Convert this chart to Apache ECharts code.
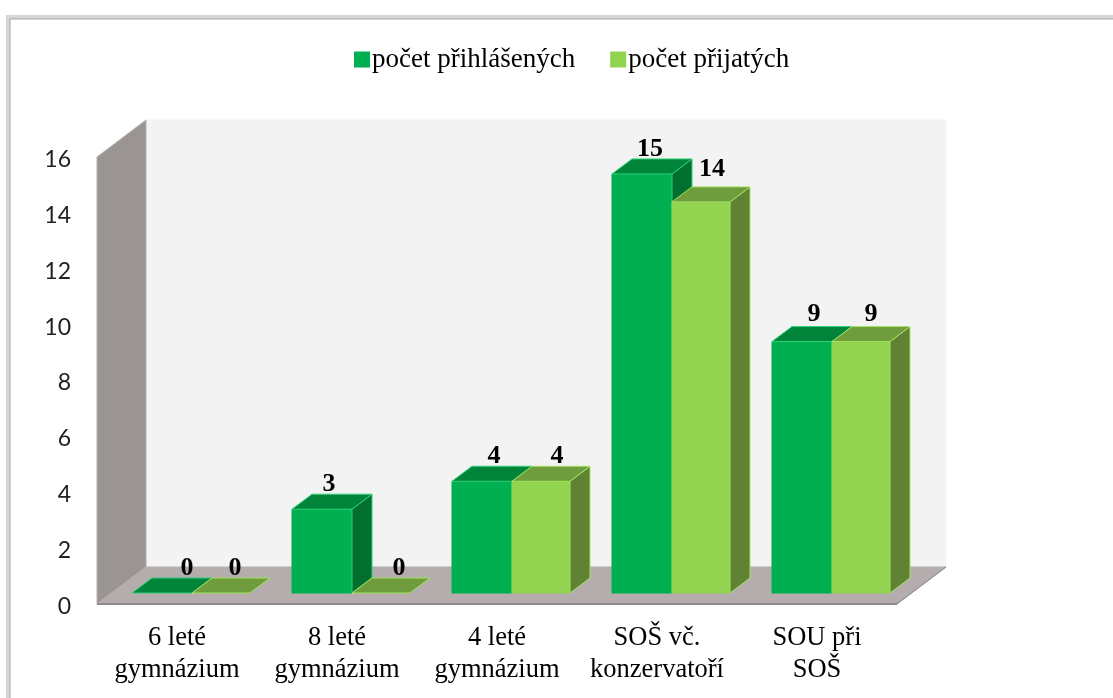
<!DOCTYPE html>
<html>
<head>
<meta charset="utf-8">
<title>počet přihlášených a přijatých</title>
<style>
  html, body { margin: 0; padding: 0; background: #fff; overflow: hidden; }
  #chart { width: 1113px; height: 698px; }
</style>
<script src="https://cdn.jsdelivr.net/npm/echarts@6/dist/echarts.min.js"></script>
</head>
<body>
<div id="chart"></div>
<script>
const categories = ['6 leté\ngymnázium', '8 leté\ngymnázium', '4 leté\ngymnázium', 'SOŠ vč.\nkonzervatoří', 'SOU při\nSOŠ'];
const prihlaseni = [0, 3, 4, 15, 9];
const prijati = [0, 0, 4, 14, 9];

const SERIF = '"Liberation Serif", serif';

// fake 3d: how far the wall sits behind the front plane, and where the bars sit in that depth
const wall = { dx: 49, dy: 37 };
const barStart = { dx: 15, dy: 11 };
const barDepth = { dx: 20, dy: 15 };
const barShare = 0.375;

const paletteA = { front: '#00b050', side: '#006f2f', top: '#00843a', edge: '#2fd07a' };
const paletteB = { front: '#92d350', side: '#5f8233', top: '#6f9c3d', edge: '#a5e25f' };

function poly(points, fill, stroke) {
  return {
    type: 'polygon',
    shape: { points },
    style: { fill, stroke: stroke || fill, lineWidth: 1 }
  };
}

function renderWalls(params) {
  const c = params.coordSys;
  const l = c.x, r = c.x + c.width, t = c.y, b = c.y + c.height;
  return {
    type: 'group',
    children: [
      poly([[l + wall.dx, t - wall.dy], [r + wall.dx, t - wall.dy], [r + wall.dx, b - wall.dy], [l + wall.dx, b - wall.dy]], '#f3f3f3'),
      poly([[l, t], [l + wall.dx, t - wall.dy], [l + wall.dx, b - wall.dy], [l, b]], '#9a9493', '#b4b0af'),
      poly([[l, b], [l + wall.dx, b - wall.dy], [r + wall.dx, b - wall.dy], [r, b]], '#b5adad'),
      { type: 'line', shape: { x1: l, y1: b, x2: r, y2: b }, style: { stroke: '#8a8a8a', lineWidth: 2 } },
      { type: 'line', shape: { x1: r, y1: b, x2: r + wall.dx, y2: b - wall.dy }, style: { stroke: '#8a8a8a', lineWidth: 1 } }
    ]
  };
}

// slot 0 sits left of the band centre, slot 1 right of it
function barRenderer(slot, share, pal, nudge) {
  return function (params, api) {
    const i = api.value(0);
    const v = api.value(1);
    const base = api.coord([i, 0]);
    const top = api.coord([i, v]);
    const band = api.size([1, 0])[0];
    const x0 = base[0] + barStart.dx + (slot - 1) * band * barShare;
    const x1 = x0 + band * share;
    const y0 = base[1] - barStart.dy;
    const y1 = top[1] - barStart.dy;
    const dx = barDepth.dx, dy = barDepth.dy;
    const n = nudge[i] || [0, 0];
    const children = [];
    if (v > 0) {
      children.push(poly([[x0, y1], [x1, y1], [x1, y0], [x0, y0]], pal.front, pal.front));
      children.push(poly([[x1, y1], [x1 + dx, y1 - dy], [x1 + dx, y0 - dy], [x1, y0]], pal.side, pal.edge));
    }
    children.push(poly([[x0, y1], [x0 + dx, y1 - dy], [x1 + dx, y1 - dy], [x1, y1]], pal.top, pal.edge));
    children.push({
      type: 'text',
      style: {
        text: String(v),
        x: (x0 + x1) / 2 + dx / 2 + n[0],
        y: y1 - dy - 10 + n[1],
        fill: '#000',
        font: 'bold 26px ' + SERIF,
        align: 'center',
        verticalAlign: 'middle'
      }
    });
    return { type: 'group', children };
  };
}

const chart = echarts.init(document.getElementById('chart'), null, { renderer: 'canvas' });

chart.setOption({
  backgroundColor: '#fff',
  animation: false,
  graphic: [
    { type: 'rect', silent: true, z: 0, shape: { x: 8, y: 17, width: 1300, height: 900 }, style: { fill: 'transparent', stroke: '#d6d6d6', lineWidth: 4 } },
    { type: 'rect', silent: true, z: 0, shape: { x: 10, y: 19, width: 1300, height: 900 }, style: { fill: 'transparent', stroke: '#a8a8a8', lineWidth: 1 } }
  ],
  legend: {
    left: 349,
    top: 41,
    icon: 'rect',
    itemWidth: 16,
    itemHeight: 16,
    itemGap: 35,
    data: ['počet přihlášených', 'počet přijatých'],
    textStyle: { fontFamily: SERIF, fontSize: 27, color: '#000', padding: [0, 0, 0, -3] }
  },
  grid: { left: 97, right: 216, top: 157, bottom: 94 },
  xAxis: {
    type: 'category',
    data: categories,
    axisLine: { show: false },
    axisTick: { show: false },
    axisLabel: { color: '#000', fontFamily: SERIF, fontSize: 26.5, lineHeight: 32, margin: 18, interval: 0 }
  },
  yAxis: {
    type: 'value',
    min: 0,
    max: 16,
    interval: 2,
    axisLine: { show: false },
    axisTick: { show: false },
    splitLine: { show: false },
    axisLabel: {
      color: '#222',
      margin: 26,
      formatter: '{n|{value}}',
      rich: { n: { fontFamily: 'Lato', fontSize: 23, color: '#222', padding: [5, 0, 0, 0] } }
    }
  },
  series: [
    {
      name: 'walls',
      type: 'custom',
      silent: true,
      clip: false,
      z: 1,
      renderItem: renderWalls,
      data: [[0, 0]],
      encode: { x: 0, y: 1 }
    },
    {
      name: 'počet přihlášených',
      type: 'custom',
      clip: false,
      z: 2,
      itemStyle: { color: paletteA.front },
      renderItem: barRenderer(0, 0.375, paletteA, { 0: [15, 0], 1: [-3, 0], 2: [2, 0], 3: [-2, 0], 4: [2, -2] }),
      data: prihlaseni.map((v, i) => [i, v]),
      encode: { x: 0, y: 1 }
    },
    {
      name: 'počet přijatých',
      type: 'custom',
      clip: false,
      z: 3,
      itemStyle: { color: paletteB.front },
      renderItem: barRenderer(1, 0.3625, paletteB, { 0: [4, 0], 1: [8, 0], 2: [6, 0], 3: [1, -8], 4: [0, -2] }),
      data: prijati.map((v, i) => [i, v]),
      encode: { x: 0, y: 1 }
    }
  ]
});
</script>
</body>
</html>
